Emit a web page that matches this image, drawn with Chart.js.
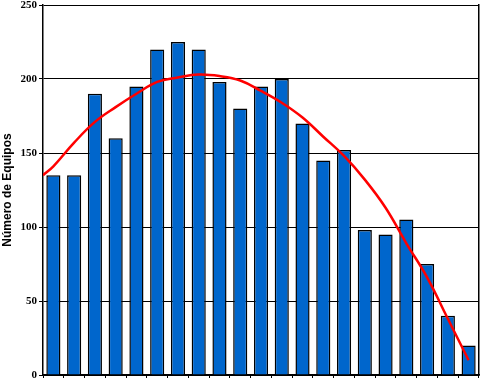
<!DOCTYPE html>
<html>
<head>
<meta charset="utf-8">
<script src="https://cdn.jsdelivr.net/npm/chart.js@4.4.0/dist/chart.umd.min.js"></script>
<style>
  html, body { margin: 0; padding: 0; background: #fff; }
  #wrap { width: 480px; height: 378px; }
</style>
</head>
<body>
<div id="wrap"><canvas id="chart"></canvas></div>
<script>
// categories (no labels shown on the x axis)
const categories = Array.from({length: 21}, (_, i) => String(i + 1));

// bar heights
const equipos = [135, 135, 190, 160, 195, 220, 225, 220, 198, 180, 195,
                 200, 170, 145, 152, 98, 95, 105, 75, 40, 20];

// red trend curve, read at category positions
const trendX = [-0.5, 0, 1, 2, 3, 4, 5, 6, 7, 8, 9, 10,
                11, 12, 13, 14, 15, 16, 17, 18, 19, 20];
const trendY = [135, 141, 157, 171, 181, 190, 198, 201, 203, 202, 199, 192,
                184, 174, 161, 148, 132, 113, 89, 66, 38, 10];

const yTicks = [0, 50, 100, 150, 200, 250];

new Chart(document.getElementById('chart'), {
  type: 'bar',
  data: {
    labels: categories,
    datasets: [
      {
        type: 'line',
        data: trendX.map((x, i) => ({x: x, y: trendY[i]})),
        xAxisID: 'x2',
        borderColor: '#ff0000',
        borderWidth: 2.5,
        pointRadius: 0,
        tension: 0.4,
        fill: false,
        order: 0
      },
      {
        type: 'bar',
        data: equipos,
        backgroundColor: '#0066cc',
        borderColor: '#000',
        borderWidth: 1.5,
        barPercentage: 0.68,
        categoryPercentage: 1,
        grouped: false,
        order: 1
      }
    ]
  },
  options: {
    responsive: true,
    maintainAspectRatio: false,
    animation: false,
    layout: { padding: { top: 5, right: 1, bottom: 0, left: 0 } },
    plugins: { legend: { display: false }, tooltip: { enabled: false } },
    scales: {
      x: {
        grid: { color: '#000', drawOnChartArea: false, drawTicks: true, tickLength: 3 },
        border: { color: '#000', width: 1.5 },
        ticks: { display: false }
      },
      x2: {
        type: 'linear', display: false, offset: false, min: -0.5, max: 20.5
      },
      y: {
        min: 0, max: 250,
        afterBuildTicks: (s) => { s.ticks = yTicks.map(v => ({value: v})); },
        afterFit: (s) => { s.width = 43; s.paddingTop = 0; s.paddingBottom = 0; },
        grid: { color: '#000', lineWidth: 1, tickLength: 4 },
        border: { color: '#000', width: 1.5 },
        ticks: {
          color: '#000', padding: 2,
          font: { family: 'Liberation Serif', weight: 'bold', size: 11 }
        },
        title: {
          display: true, text: 'Número de Equipos', color: '#000',
          padding: { top: 0, bottom: 0 },
          font: { family: 'Liberation Sans', weight: 'bold', size: 12 }
        }
      },
      yR: {
        position: 'right', min: 0, max: 250,
        grid: { display: false, drawTicks: false },
        ticks: { display: false },
        border: { display: true, color: '#000', width: 1.5 }
      }
    }
  }
});
</script>
</body>
</html>
